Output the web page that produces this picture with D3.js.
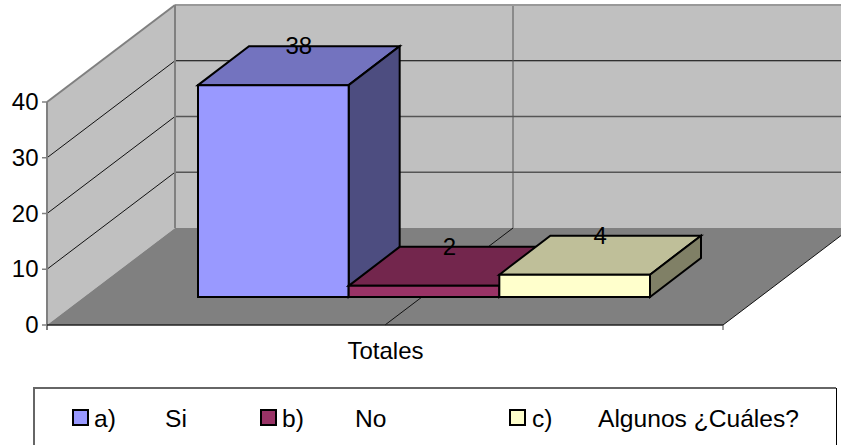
<!DOCTYPE html>
<html><head><meta charset="utf-8">
<script src="https://cdnjs.cloudflare.com/ajax/libs/d3/7.8.5/d3.min.js"></script>
<style>html,body{margin:0;padding:0;background:#fff;overflow:hidden}text{font-family:"Liberation Sans",Arial,sans-serif;fill:#000}</style>
</head><body><svg id="c" width="841" height="445"></svg>
<script>
const categories=["Totales"];
const seriesKeys=["a)","b)","c)"];
const seriesNames=["Si","No","Algunos ¿Cuáles?"];
const seriesValues=[38,2,4];
const frontColors=["#9999ff","#993366","#ffffcc"];
const topColors=["#7373bf","#73264d","#bfbf99"];
const sideColors=["#4d4d80","#4d1a33","#808066"];
const ticks=[0,10,20,30,40];

const svg=d3.select("#c");
const y=d3.scaleLinear().domain([0,40]).range([325,102]);
const x=d3.scaleLinear().domain([0,1]).range([47,723]);
const band=d3.scaleBand().domain(seriesKeys).range([198,650]);
const dx=128,dy=-97;
const bdx=51,bdy=-39;
const baseY=297;
const fs=24;
const h=v=>y(0)-y(v);
const poly=(pts,fill,stroke,sw)=>svg.append("polygon").attr("points",pts.map(p=>p.join(",")).join(" ")).attr("fill",fill).attr("stroke",stroke||"none").attr("stroke-width",sw||0);
const line=(a,b,c,w)=>svg.append("line").attr("x1",a[0]).attr("y1",a[1]).attr("x2",b[0]).attr("y2",b[1]).attr("stroke",c).attr("stroke-width",w);

const x0=x(0),x1=x(1),yb=y(0),yt=y(40);
poly([[x0,yb],[x0+dx,yb+dy],[x0+dx,yt+dy],[x0,yt]],"#c0c0c0");
poly([[x0+dx,yb+dy],[x1+dx,yb+dy],[x1+dx,yt+dy],[x0+dx,yt+dy]],"#c0c0c0");
poly([[x0,yb],[x1,yb],[x1+dx,yb+dy],[x0+dx,yb+dy]],"#808080");
ticks.slice(1,4).forEach(t=>{
  line([x0,y(t)],[x0+dx,y(t)+dy],"#111",1);
  line([x0+dx,y(t)+dy],[x1+dx,y(t)+dy],t===30?"#000":"#555",t===30?1.2:1.5);
});
const xm=x(0.5);
line([xm,yb],[xm+dx,yb+dy],"#111",1);
line([xm+dx,yb+dy],[xm+dx,yt+dy],"#555",1);
line([x0,yt],[x0+dx,yt+dy],"#808080",2);
line([x0+dx,yt+dy],[x1+dx,yt+dy],"#999",2);
line([x0+dx,yt+dy],[x0+dx,yb+dy],"#808080",2);
line([x0,yt],[x0,yb+5],"#808080",2);
line([x0,yb],[x1,yb],"#222",1.5);
line([x1,yb],[x1+dx,yb+dy],"#111",1);
line([x1,yb],[x1,yb+5],"#444",1);
ticks.forEach(t=>{
  line([x0-5,y(t)],[x0,y(t)],"#808080",1.5);
  svg.append("text").attr("x",38.5).attr("y",y(t)+8).attr("text-anchor","end").attr("font-size",fs).text(t);
});
seriesValues.forEach((v,i)=>{
  const l=band(seriesKeys[i]),r=l+band.bandwidth(),t=baseY-h(v);
  poly([[l,t],[l+bdx,t+bdy],[r+bdx,t+bdy],[r,t]],topColors[i],"#000",2);
  poly([[r,t],[r+bdx,t+bdy],[r+bdx,baseY+bdy],[r,baseY]],sideColors[i],"#000",2);
  poly([[l,t],[r,t],[r,baseY],[l,baseY]],frontColors[i],"#000",2);
});
seriesValues.forEach((v,i)=>{
  const l=band(seriesKeys[i]),t=baseY-h(v);
  svg.append("text").attr("x",l+bdx/2+band.bandwidth()/2).attr("y",t+bdy+8).attr("text-anchor","middle").attr("font-size",fs).text(v);
});
svg.append("text").attr("x",385.5).attr("y",359).attr("text-anchor","middle").attr("font-size",fs).text(categories[0]);
// legend
line([34,388],[836,388],"#666",2);
line([34,387],[34,445],"#666",2);
line([836.5,388],[836.5,445],"#000",1);
const swatchX=[73,261,510], keyX=[94,282,532], nameX=[165,355,598];
seriesKeys.forEach((k,i)=>{
  svg.append("rect").attr("x",swatchX[i]).attr("y",410).attr("width",15).attr("height",15).attr("fill",frontColors[i]).attr("stroke","#000").attr("stroke-width",2);
  svg.append("text").attr("x",keyX[i]).attr("y",426.5).attr("font-size",24.6).text(k);
  svg.append("text").attr("x",nameX[i]).attr("y",426.5).attr("font-size",24.6).text(seriesNames[i]);
});
</script></body></html>
